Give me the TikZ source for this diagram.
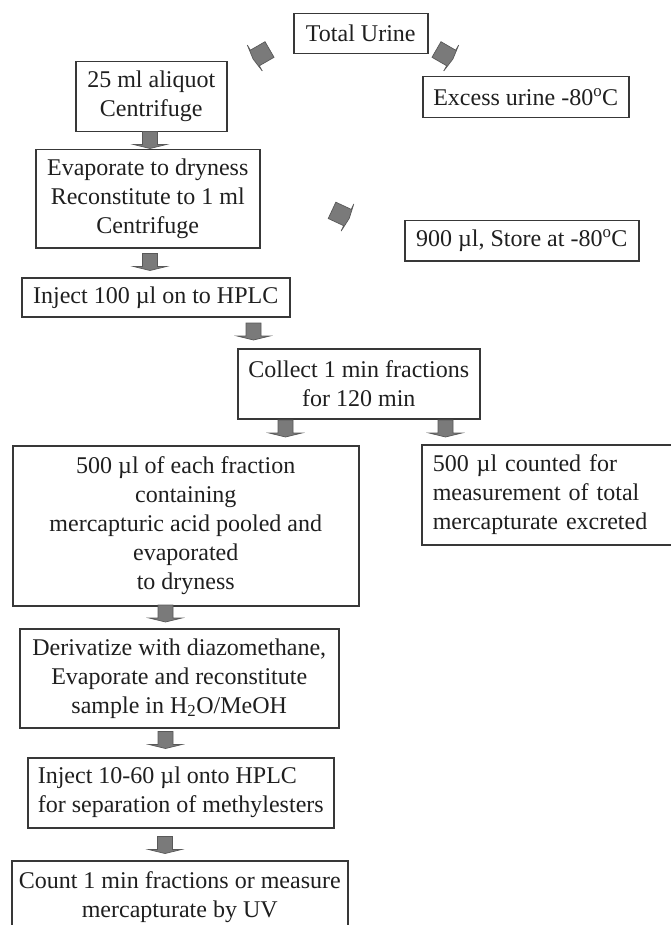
\documentclass[tikz,border=0pt]{standalone}
\usepackage{fontspec}
\setmainfont{Liberation Serif}
\begin{document}
\begin{tikzpicture}[x=1pt,y=-1pt,
  box/.style={draw=black!78, line width=1.5pt, fill=white, text=black!88, inner sep=2pt,
    anchor=north west, align=center, font=\fontsize{24}{29}\selectfont},
  arrowstyle/.style={fill=black!52, draw=black!65, line width=0.7pt, line join=miter},
  downarrow/.pic={\filldraw[arrowstyle] (-7.5,-8.5) -- (7.5,-8.5) -- (7.5,4.5) -- (16.5,4.5)
     -- (0,8.5) -- (-16.5,4.5) -- (-7.5,4.5) -- cycle;},
  tiltarrow/.pic={\filldraw[arrowstyle] (-9,-11) -- (9,-11) -- (9,6) -- (15,6)
     -- (0,8) -- (-15,6) -- (-9,6) -- cycle;}
]
\useasboundingbox (0,0) rectangle (671,925);

\node[box, minimum width=134pt, minimum height=40pt] (total) at (293,13) {Total Urine};
\node[box, minimum width=206pt, minimum height=41pt] (excess) at (422,76) {Excess urine -80\textsuperscript{o}C};
\node[box, minimum width=151pt, minimum height=70pt] (aliquot) at (75,61) {25 ml aliquot\\Centrifuge};
\node[box, minimum width=224pt, minimum height=98pt] (evap) at (35,149) {Evaporate to dryness\\Reconstitute to 1 ml\\Centrifuge};
\node[box, minimum width=234pt, minimum height=40pt] (store) at (404,220) {900 µl, Store at -80\textsuperscript{o}C};
\node[box, minimum width=268pt, minimum height=39pt] (injA) at (21,277) {Inject 100 µl on to HPLC};
\node[box, minimum width=242pt, minimum height=70pt] (collect) at (237,348) {Collect 1 min fractions\\for 120 min};
\node[box, minimum width=346pt, minimum height=160pt] (pool) at (12,445) {500 µl of each fraction\\containing\\mercapturic acid pooled and\\evaporated\\to dryness};
\node[box, minimum width=262pt, minimum height=100pt, align=left, text width=240pt, inner xsep=10pt] (total500) at (421,444) {500 µl counted for\\measurement of total\\mercapturate excreted};
\node[box, minimum width=319pt, minimum height=99pt] (deriv) at (19,628) {Derivatize with diazomethane,\\Evaporate and reconstitute\\sample in H\textsubscript{2}O/MeOH};
\node[box, minimum width=306pt, minimum height=70pt, align=left] (injB) at (27,757) {Inject 10-60 µl onto HPLC\\for separation of methylesters};
\node[box, minimum width=336pt, minimum height=72pt] (countuv) at (11,860) {Count 1 min fractions or measure\\mercapturate by UV};

% tilted block arrows from Total Urine
\pic[rotate=-60] at (260,55) {tiltarrow};
\pic[rotate=60] at (446,55) {tiltarrow};
\pic[rotate=65] at (342,215) {tiltarrow};

% vertical block arrows
\pic at (150,140) {downarrow};
\pic at (150,262) {downarrow};
\pic at (253.5,331.5) {downarrow};
\pic at (285.5,428.5) {downarrow};
\pic at (445.5,428.5) {downarrow};
\pic at (165.5,613.5) {downarrow};
\pic at (165.5,740) {downarrow};
\pic at (165,845) {downarrow};
\end{tikzpicture}
\end{document}
